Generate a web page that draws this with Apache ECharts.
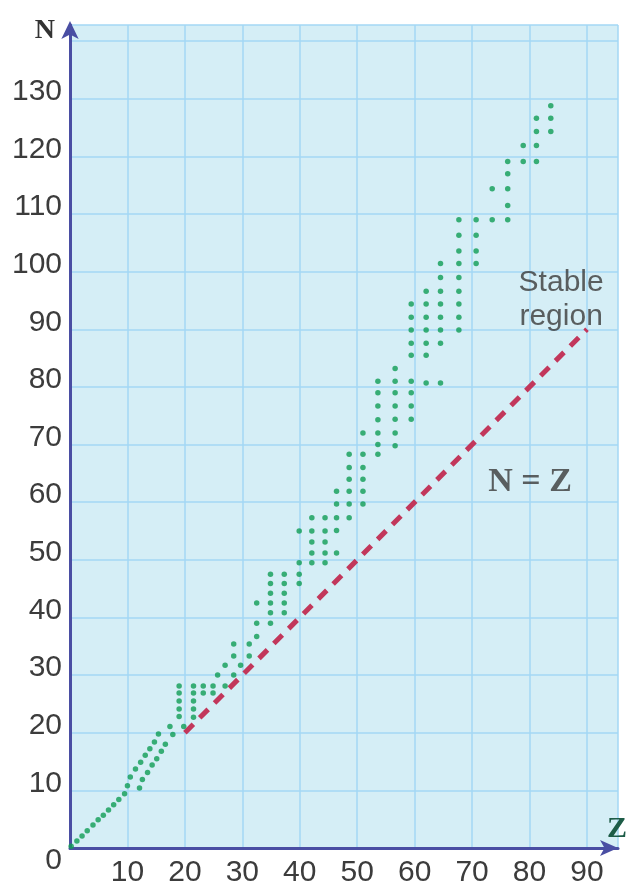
<!DOCTYPE html>
<html>
<head>
<meta charset="utf-8">
<script src="https://cdn.jsdelivr.net/npm/echarts@6/dist/echarts.min.js"></script>
<style>
html, body { margin: 0; padding: 0; background: #fff; }
#chart { width: 632px; height: 888px; }
</style>
</head>
<body>
<div id="chart"></div>
<script>
// axis ranges (Z = protons, N = neutrons)
const zMax = 95.4;
const nMax = 142.8;
const tickStep = 10;
const lastNLabel = 130;

// light nuclei, N ~ Z up to Z = 10
const lightDiagonal = [[0.2, 0.3], [1.2, 1.2], [2.1, 2.1], [3.0, 3.0], [4.0, 4.0], [4.9, 4.9],
  [5.8, 5.7], [6.7, 6.6], [7.6, 7.5], [8.5, 8.4], [9.5, 9.4]];
const upperBranch = [[10.0, 10.8], [10.5, 12.3], [11.4, 13.7], [12.3, 14.9], [13.1, 16.1],
  [13.9, 17.2], [14.7, 18.4], [15.4, 19.8]];
const lowerBranch = [[12.1, 10.4], [12.6, 11.9], [13.5, 13.1], [14.3, 14.4], [15.1, 15.5],
  [15.9, 16.8], [16.6, 18.0], [17.9, 19.7]];
const looseDots = [[17.4, 21.1], [19.8, 21.1]];

// heavier nuclei, one entry per column: [Z, [N values]]
const bandColumns = [
  [19.0, [22.8, 24.1, 25.5, 26.9, 28.1]],
  [21.5, [22.7, 24.1, 25.5, 26.9, 28.1]],
  [23.2, [26.9, 28.1]],
  [24.9, [26.9, 28.1]],
  [25.7, [30.0]],
  [27.0, [28.1, 31.7]],
  [28.5, [30.0, 33.3, 35.4]],
  [29.7, [31.7]],
  [31.2, [33.3, 35.4]],
  [32.5, [36.7, 39.0, 42.5]],
  [34.9, [39.0, 40.8, 42.5, 44.2, 45.9, 47.5]],
  [37.3, [40.8, 42.5, 44.2, 45.9, 47.5]],
  [39.9, [45.9, 47.5, 49.5, 55.0]],
  [42.1, [49.5, 51.2, 53.1, 55.0, 57.3]],
  [44.4, [49.5, 51.2, 53.1, 55.0, 57.3]],
  [46.4, [51.2, 55.1, 57.3, 59.7, 61.9]],
  [48.6, [57.3, 59.7, 61.9, 64.0, 66.0, 68.3]],
  [51.0, [59.7, 61.9, 64.0, 66.0, 68.3, 72.0]],
  [53.6, [68.3, 70.0, 72.0, 74.3, 76.7, 79.0, 81.0]],
  [56.6, [69.8, 72.0, 74.4, 76.7, 79.0, 81.0, 83.2]],
  [59.4, [74.4, 76.7, 79.0, 81.0, 85.5, 87.6, 89.9, 92.1, 94.4]],
  [62.0, [80.7, 85.5, 87.6, 89.9, 92.1, 94.4, 96.6]],
  [64.5, [80.7, 87.6, 89.9, 92.1, 94.4, 96.6, 99.0, 101.4]],
  [67.7, [89.9, 92.1, 94.4, 96.6, 99.0, 101.4, 103.6, 106.3, 109.0]],
  [70.7, [101.4, 103.6, 106.3, 109.0]],
  [73.5, [109.0, 114.4]],
  [76.2, [109.0, 111.5, 114.4, 117.0, 119.1]],
  [78.9, [119.1, 121.9]],
  [81.2, [119.1, 121.9, 124.3, 126.6]],
  [83.7, [124.3, 126.6, 128.8]]
];

// N = Z reference line
const equalLine = [[20, 20], [90, 90]];

// text placed in the plot
const stableLabelAt = [85.5, 95.1];
const equalLabelAt = [80.1, 63.4];

let stableDots = lightDiagonal.concat(upperBranch, lowerBranch, looseDots);
bandColumns.forEach(function (col) {
  col[1].forEach(function (n) { stableDots.push([col[0], n]); });
});

const axisColor = '#4a4ea3';
const labelFont = '"Liberation Sans", Arimo, sans-serif';
const serifFont = '"Liberation Serif", "DejaVu Serif", serif';

let chart = echarts.init(document.getElementById('chart'), null, { renderer: 'canvas' });
chart.setOption({
  animation: false,
  backgroundColor: '#ffffff',
  grid: {
    left: 70, right: 14, top: 25, bottom: 39,
    show: true, backgroundColor: '#d5eef6', borderWidth: 0
  },
  xAxis: {
    type: 'value', min: 0, max: zMax, interval: tickStep,
    name: 'Z', nameLocation: 'end', nameGap: -1,
    nameTextStyle: {
      fontFamily: serifFont, fontWeight: 'bold', fontSize: 30, color: '#1d5c47',
      align: 'center', verticalAlign: 'bottom', padding: [0, 0, 4, 0]
    },
    axisLine: {
      show: true, symbol: ['none', 'arrow'], symbolSize: [12, 18], symbolOffset: [0, 0],
      lineStyle: { color: axisColor, width: 3 }
    },
    axisTick: { show: false },
    axisLabel: {
      showMinLabel: false, showMaxLabel: false, margin: 10,
      fontFamily: labelFont, fontSize: 30, color: '#3c3c3c'
    },
    splitLine: { show: true, lineStyle: { color: '#a3d7f4', width: 1.5 } }
  },
  yAxis: {
    type: 'value', min: 0, max: nMax, interval: tickStep,
    name: 'N', nameLocation: 'end', nameGap: -6,
    nameTextStyle: {
      fontFamily: serifFont, fontWeight: 'bold', fontSize: 28, color: '#333333',
      align: 'right', verticalAlign: 'middle', padding: [0, 15, 0, 0]
    },
    axisLine: {
      show: true, symbol: ['none', 'arrow'], symbolSize: [13, 18], symbolOffset: [0, 4],
      lineStyle: { color: axisColor, width: 3 }
    },
    axisTick: { show: false },
    axisLabel: {
      showMaxLabel: false, margin: 8,
      formatter: function (v) {
        if (v === 0) return '{zero|0}';
        if (v > lastNLabel) return '';
        return '{v|' + v + '}';
      },
      rich: {
        v: { fontFamily: labelFont, fontSize: 30, color: '#3c3c3c', padding: [0, 0, 14, 0] },
        zero: { fontFamily: labelFont, fontSize: 30, color: '#3c3c3c', padding: [26, 0, 0, 0] }
      }
    },
    splitLine: { show: true, lineStyle: { color: '#a3d7f4', width: 1.5 } }
  },
  series: [
    {
      name: 'N = Z',
      type: 'line',
      data: equalLine,
      symbol: 'none',
      lineStyle: { color: '#c2375b', width: 5, type: [12, 9] },
      z: 2
    },
    {
      name: 'Stable nuclei',
      type: 'scatter',
      data: stableDots,
      symbolSize: 5.5,
      itemStyle: { color: '#0f9c55' },
      z: 3
    },
    {
      name: 'notes',
      type: 'scatter',
      symbolSize: 1,
      itemStyle: { color: 'rgba(0,0,0,0)' },
      silent: true,
      data: [
        {
          value: stableLabelAt, name: 'Stable\nregion',
          label: {
            show: true, position: 'inside', formatter: '{b}', align: 'center',
            fontFamily: labelFont, fontSize: 30, lineHeight: 34, color: '#3a3a3a'
          }
        },
        {
          value: equalLabelAt, name: 'N = Z',
          label: {
            show: true, position: 'inside', formatter: '{b}', align: 'center',
            fontFamily: serifFont, fontWeight: 'bold', fontSize: 34, color: '#3a3a3a'
          }
        }
      ],
      z: 4
    }
  ]
});
</script>
</body>
</html>
